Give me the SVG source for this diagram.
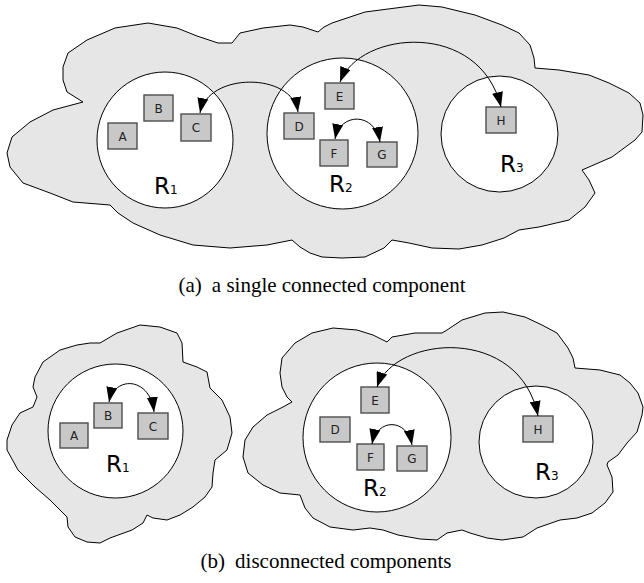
<svg xmlns="http://www.w3.org/2000/svg" width="644" height="583" viewBox="0 0 644 583">
<style>
.cloud{fill:#e6e6e6;stroke:#000;stroke-width:1;stroke-linejoin:round}
.region{fill:#fff;stroke:#000;stroke-width:1}
.box{fill:#c8c8c8;stroke:#4d4d4d;stroke-width:1.4}
.bl{font-family:"DejaVu Sans",sans-serif;font-size:12px;fill:#222;text-anchor:middle}
.rl{font-family:"DejaVu Sans",sans-serif;font-size:23px;fill:#000}
.rs{font-size:12px}
.arc{fill:none;stroke:#000;stroke-width:1;marker-start:url(#ah);marker-end:url(#ah)}
.cap{font-family:"Liberation Serif","Times New Roman",serif;font-size:21px;fill:#000;text-anchor:middle}
</style>
<defs>
<marker id="ah" viewBox="0 0 15 11" refX="15" refY="5.5" markerWidth="15" markerHeight="11" markerUnits="userSpaceOnUse" orient="auto-start-reverse"><path d="M0,0 L15,5.5 L0,11 z" fill="#000"/></marker>
</defs>

<g id="cloud-a">
<polygon class="cloud" points="68,53 87,40 115,28 148,23 177,28 197,36 218,43 232,43 240,33 263,28 290,25 303,27 318,32 324,27 332,23 365,12 419,5 442,7 475,15 502,25 519,33 530,45 534,58 535,68 559,70 589,75 609,83 629,93 640,103 643,115 642,132 635,140 612,157 589,167 582,170 589,180 595,193 585,207 569,220 539,227 519,230 504,238 482,245 459,249 432,248 409,243 392,240 384,248 365,257 342,258 322,257 310,253 300,247 292,240 267,245 230,248 193,245 160,235 133,223 118,213 110,205 73,202 50,193 23,183 10,167 7,153 12,137 30,122 53,110 83,102 67,92 63,80 63,67"/>
</g>
<g id="a-R1">
<ellipse class="region" cx="165" cy="140" rx="68" ry="68"/>
<text class="rl" x="154" y="194">R<tspan class="rs">1</tspan></text>
</g>
<g id="a-R2">
<ellipse class="region" cx="342.5" cy="133.5" rx="75.5" ry="75.5"/>
<text class="rl" x="329" y="192">R<tspan class="rs">2</tspan></text>
</g>
<g id="a-R3">
<ellipse class="region" cx="499.5" cy="134" rx="58.5" ry="58"/>
<text class="rl" x="500" y="172">R<tspan class="rs">3</tspan></text>
</g>
<g id="a-A"><rect class="box" x="108" y="123" width="29" height="26"/><text class="bl" x="122.5" y="140.5">A</text></g>
<g id="a-B"><rect class="box" x="144" y="95" width="29" height="26"/><text class="bl" x="158.5" y="112.5">B</text></g>
<g id="a-C"><rect class="box" x="181" y="114" width="30" height="27"/><text class="bl" x="196" y="132">C</text></g>
<g id="a-D"><rect class="box" x="284" y="113" width="30" height="26"/><text class="bl" x="299" y="130.5">D</text></g>
<g id="a-E"><rect class="box" x="325" y="83" width="29" height="26"/><text class="bl" x="339.5" y="100.5">E</text></g>
<g id="a-F"><rect class="box" x="320" y="140" width="28" height="26"/><text class="bl" x="334" y="157.5">F</text></g>
<g id="a-G"><rect class="box" x="367" y="142" width="30" height="25"/><text class="bl" x="382" y="159">G</text></g>
<g id="a-H"><rect class="box" x="486" y="107" width="30" height="26"/><text class="bl" x="501" y="124.5">H</text></g>

<g id="cloud-b1">
<polygon class="cloud" points="100,343 117,333 140,325 160,327 177,333 182,343 183,362 197,367 207,372 210,388 222,400 230,417 232,433 227,450 215,460 213,473 212,487 205,497 193,507 180,515 167,520 153,518 147,515 143,523 132,530 110,538 100,543 87,542 75,537 68,527 67,517 50,500 35,487 18,470 7,450 7,440 12,425 20,413 33,407 37,397 33,387 35,377 43,362 60,350 77,345 90,343"/>
</g>
<g id="cloud-b2">
<polygon class="cloud" points="282,358 295,343 312,333 333,328 357,330 373,335 387,342 392,337 415,333 442,333 447,330 462,320 485,313 503,312 525,317 542,325 557,333 568,348 573,358 575,368 600,370 620,375 630,383 638,393 643,407 642,415 637,432 627,443 618,455 608,462 607,465 612,477 613,492 605,503 592,513 577,518 560,520 537,528 523,537 502,540 487,538 470,533 462,530 447,533 437,540 420,539 398,535 383,530 370,528 353,530 330,527 313,518 305,508 300,495 280,493 263,485 248,473 243,457 245,440 253,427 267,415 283,407 292,402 287,397 282,387 280,373"/>
</g>
<g id="b-R1">
<ellipse class="region" cx="115.5" cy="431" rx="67.5" ry="67"/>
<text class="rl" x="106" y="472">R<tspan class="rs">1</tspan></text>
</g>
<g id="b-R2">
<ellipse class="region" cx="377" cy="437.5" rx="74" ry="74.5"/>
<text class="rl" x="363" y="496">R<tspan class="rs">2</tspan></text>
</g>
<g id="b-R3">
<ellipse class="region" cx="536" cy="442" rx="57" ry="56"/>
<text class="rl" x="535" y="480">R<tspan class="rs">3</tspan></text>
</g>
<g id="b-A"><rect class="box" x="60" y="423" width="28" height="25"/><text class="bl" x="74" y="440">A</text></g>
<g id="b-B"><rect class="box" x="94" y="403" width="28" height="25"/><text class="bl" x="108" y="420">B</text></g>
<g id="b-C"><rect class="box" x="138" y="413" width="30" height="26"/><text class="bl" x="153" y="430.5">C</text></g>
<g id="b-D"><rect class="box" x="320" y="417" width="30" height="25"/><text class="bl" x="335" y="434">D</text></g>
<g id="b-E"><rect class="box" x="361" y="387" width="28" height="26"/><text class="bl" x="375" y="404.5">E</text></g>
<g id="b-F"><rect class="box" x="357" y="444" width="27" height="26"/><text class="bl" x="370.5" y="461.5">F</text></g>
<g id="b-G"><rect class="box" x="397" y="446" width="30" height="25"/><text class="bl" x="412" y="463">G</text></g>
<g id="b-H"><rect class="box" x="523" y="416" width="30" height="26"/><text class="bl" x="538" y="433.5">H</text></g>

<g id="connectors">
<path class="arc" d="M200,113 C208,72 292,72 298,112"/>
<path class="arc" d="M340,82 C360,30 480,20 501,107"/>
<path class="arc" d="M335,139 C340,112 375,112 380,142"/>
<path class="arc" d="M109,402 C114,376 150,376 154,412"/>
<path class="arc" d="M377,387 C395,335 520,325 538,416"/>
<path class="arc" d="M372,444 C377,418 407,418 412,445"/>
</g>

<g id="captions">
<text class="cap" x="322" y="292">(a)<tspan dx="10">a single connected component</tspan></text>
<text class="cap" x="326" y="568">(b)<tspan dx="10">disconnected components</tspan></text>
</g>
</svg>
